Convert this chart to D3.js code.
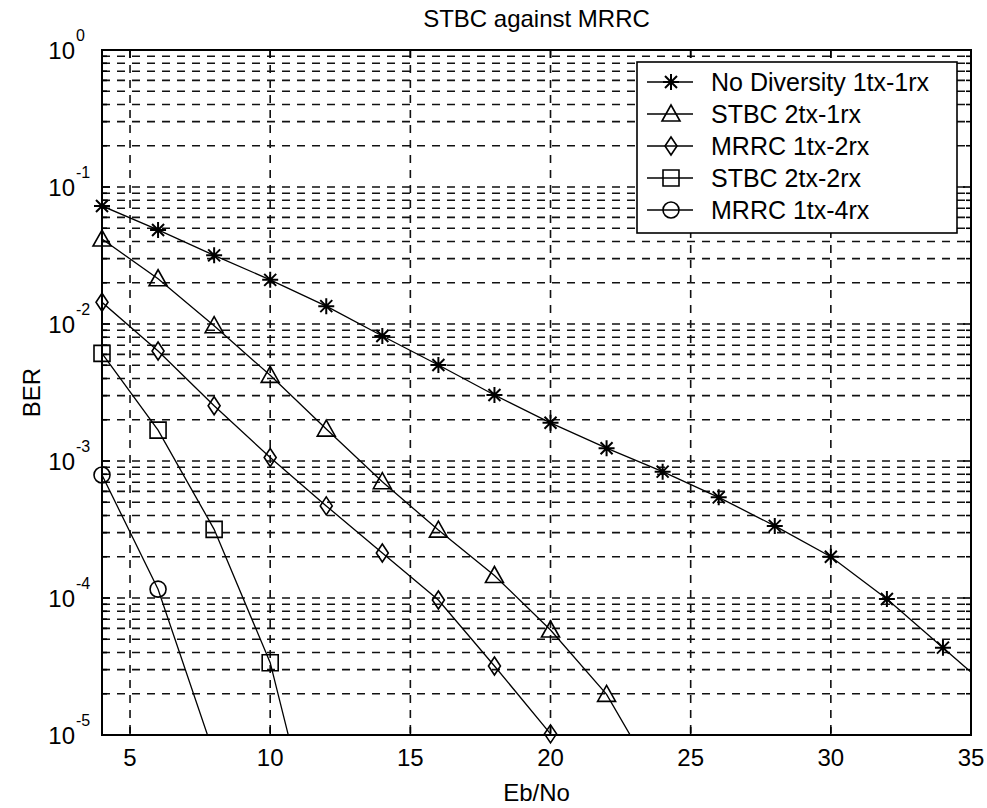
<!DOCTYPE html>
<html>
<head>
<meta charset="utf-8">
<script src="https://cdn.jsdelivr.net/npm/d3@7"></script>
<style>
  body { margin: 0; background: #fff; }
  text { font-family: "Liberation Sans", Arial, sans-serif; fill: #000; }
</style>
</head>
<body>
<div id="chart"></div>
<script>
// series names
var seriesNames = ["No Diversity 1tx-1rx", "STBC 2tx-1rx", "MRRC 1tx-2rx", "STBC 2tx-2rx", "MRRC 1tx-4rx"];
var markerTypes = ["asterisk", "triangle", "diamond", "square", "circle"];

// Eb/No (dB) and BER values
var ebnoNoDiv = [4, 6, 8, 10, 12, 14, 16, 18, 20, 22, 24, 26, 28, 30, 32, 34, 36];
var berNoDiv = [0.0727, 0.0486, 0.0317, 0.0210, 0.0135, 0.00817, 0.00502, 0.00303, 0.00190, 0.00124,
	0.000836, 0.000543, 0.000336, 0.000200, 0.0000984, 0.0000434, 0.000019];

var ebnoStbc21 = [4, 6, 8, 10, 12, 14, 16, 18, 20, 22, 24];
var berStbc21 = [0.0417, 0.0214, 0.00972, 0.00422, 0.00171, 0.000706, 0.000313, 0.000146, 0.0000584, 0.0000198, 0.0000039];

var ebnoMrrc12 = [4, 6, 8, 10, 12, 14, 16, 18, 20];
var berMrrc12 = [0.0144, 0.00635, 0.00253, 0.00106, 0.00047, 0.000213, 0.0000967, 0.0000319, 0.0000102];

var ebnoStbc22 = [4, 6, 8, 10, 12];
var berStbc22 = [0.0061, 0.00168, 0.000317, 0.0000337, 0.00000078];

var ebnoMrrc14 = [4, 6, 8];
var berMrrc14 = [0.00079, 0.000116, 0.0000072];

var xTicks = [5, 10, 15, 20, 25, 30, 35];
var yDecades = [0, -1, -2, -3, -4, -5];

var title = "STBC against MRRC",
	xTitle = "Eb/No",
	yTitle = "BER";

var W = 987, H = 808;
var margin = {top: 50, right: 16, bottom: 73, left: 102},
	w = W - margin.left - margin.right,
	h = H - margin.top - margin.bottom;

var svg = d3.select("#chart").append("svg")
	.attr("width", W)
	.attr("height", H)

var x = d3.scaleLinear()
	.domain([4, 35])
	.range([margin.left, margin.left + w])

var y = d3.scaleLog()
	.domain([1e-5, 1])
	.range([margin.top + h, margin.top])

var allSeries = [
	{x: ebnoNoDiv, y: berNoDiv},
	{x: ebnoStbc21, y: berStbc21},
	{x: ebnoMrrc12, y: berMrrc12},
	{x: ebnoStbc22, y: berStbc22},
	{x: ebnoMrrc14, y: berMrrc14}
];
allSeries.forEach(function(s, i) {
	s.name = seriesNames[i];
	s.marker = markerTypes[i];
	s.points = s.x.map(function(v, j) { return {x: v, y: s.y[j]}; });
})

svg.append("clipPath")
	.attr("id", "plotclip")
	.append("rect")
	.attr("x", margin.left)
	.attr("y", margin.top)
	.attr("width", w)
	.attr("height", h)

// minor + major grid values for the log axis
var yGrid = [];
yDecades.forEach(function(e) {
	if (e < 0) {
		for (var m = 1; m <= 9; m++) yGrid.push(m * Math.pow(10, e));
	}
})

var grid = svg.append("g").attr("class", "grid")

grid.selectAll(".hgrid")
	.data(yGrid)
	.enter()
	.append("line")
	.attr("x1", margin.left)
	.attr("x2", margin.left + w)
	.attr("y1", function(d) { return y(d); })
	.attr("y2", function(d) { return y(d); })
	.style("stroke", "#111")
	.style("stroke-width", 1.6)
	.style("stroke-dasharray", "8,7")

grid.selectAll(".vgrid")
	.data(xTicks.slice(0, -1))
	.enter()
	.append("line")
	.attr("x1", function(d) { return x(d); })
	.attr("x2", function(d) { return x(d); })
	.attr("y1", margin.top)
	.attr("y2", margin.top + h)
	.style("stroke", "#111")
	.style("stroke-width", 1.6)
	.style("stroke-dasharray", "8,7")

// tick marks on all four sides, pointing inwards
var ticks = svg.append("g")
xTicks.forEach(function(t) {
	ticks.append("line").attr("x1", x(t)).attr("x2", x(t))
		.attr("y1", margin.top + h).attr("y2", margin.top + h - 8)
	ticks.append("line").attr("x1", x(t)).attr("x2", x(t))
		.attr("y1", margin.top).attr("y2", margin.top + 8)
})
yGrid.forEach(function(t) {
	var len = (Math.abs(Math.log10(t) - Math.round(Math.log10(t))) < 1e-9) ? 8 : 5;
	ticks.append("line").attr("x1", margin.left).attr("x2", margin.left + len)
		.attr("y1", y(t)).attr("y2", y(t))
	ticks.append("line").attr("x1", margin.left + w).attr("x2", margin.left + w - len)
		.attr("y1", y(t)).attr("y2", y(t))
})
ticks.selectAll("line").style("stroke", "#000").style("stroke-width", 1.6)

// series lines
var line = d3.line()
	.x(function(d) { return x(d.x); })
	.y(function(d) { return y(d.y); })

svg.append("g")
	.attr("clip-path", "url(#plotclip)")
	.selectAll(".series")
	.data(allSeries)
	.enter()
	.append("path")
	.attr("class", "series")
	.attr("d", function(d) { return line(d.points); })
	.style("fill", "none")
	.style("stroke", "#000")
	.style("stroke-width", 1.3)

function markerPath(type) {
	if (type == "asterisk") return "M-8,0L8,0M0,-8L0,8M-6,-6L6,6M-6,6L6,-6";
	if (type == "triangle") return "M0,-9L9,7L-9,7Z";
	if (type == "diamond") return "M0,-9L6,0L0,9L-6,0Z";
	if (type == "square") return "M-8,-8L8,-8L8,8L-8,8Z";
	if (type == "circle") return "M-8,0A8,8 0 1,0 8,0A8,8 0 1,0 -8,0Z";
}

function drawMarker(g, type, cx, cy) {
	g.append("path")
		.attr("d", markerPath(type))
		.attr("transform", "translate(" + cx + "," + cy + ")")
		.style("fill", "none")
		.style("stroke", "#000")
		.style("stroke-width", type == "asterisk" ? 2 : 1.6)
}

var marks = svg.append("g")
allSeries.forEach(function(s) {
	s.points.forEach(function(p) {
		if (p.x <= 35 && p.y >= 1e-5) drawMarker(marks, s.marker, x(p.x), y(p.y));
	})
})

// axes box
svg.append("rect")
	.attr("x", margin.left)
	.attr("y", margin.top)
	.attr("width", w)
	.attr("height", h)
	.style("fill", "none")
	.style("stroke", "#000")
	.style("stroke-width", 2)

// tick labels
svg.selectAll(".xlabel")
	.data(xTicks)
	.enter()
	.append("text")
	.attr("x", function(d) { return x(d); })
	.attr("y", margin.top + h + 31)
	.style("text-anchor", "middle")
	.style("font-size", "24px")
	.text(function(d) { return d; })

yDecades.forEach(function(e) {
	var yy = y(Math.pow(10, e));
	svg.append("text")
		.attr("x", 75)
		.attr("y", yy + 9)
		.style("text-anchor", "end")
		.style("font-size", "24px")
		.text("10")
	svg.append("text")
		.attr("x", 76)
		.attr("y", yy - 9)
		.style("text-anchor", "start")
		.style("font-size", "16px")
		.text(e == 0 ? "0" : "-" + Math.abs(e))
})

svg.append("text")
	.attr("x", margin.left + w / 2)
	.attr("y", 27)
	.style("text-anchor", "middle")
	.style("font-size", "24px")
	.text(title)

svg.append("text")
	.attr("x", margin.left + w / 2)
	.attr("y", 801)
	.style("text-anchor", "middle")
	.style("font-size", "24px")
	.text(xTitle)

svg.append("text")
	.attr("transform", "translate(40," + (margin.top + h / 2) + ") rotate(-90)")
	.style("text-anchor", "middle")
	.style("font-size", "24px")
	.text(yTitle)

// legend
var lg = svg.append("g").attr("class", "legend")
var lx = 637, ly = 62, lw = 320, lh = 171;
lg.append("rect")
	.attr("x", lx)
	.attr("y", ly)
	.attr("width", lw)
	.attr("height", lh)
	.style("fill", "#fff")
	.style("stroke", "#000")
	.style("stroke-width", 1.6)

allSeries.forEach(function(s, i) {
	var ry = ly + 20 + i * 32;
	lg.append("line")
		.attr("x1", lx + 10)
		.attr("x2", lx + 56)
		.attr("y1", ry)
		.attr("y2", ry)
		.style("stroke", "#000")
		.style("stroke-width", 1.3)
	drawMarker(lg, s.marker, lx + 34, ry);
	lg.append("text")
		.attr("x", lx + 74)
		.attr("y", ry)
		.attr("dy", "0.36em")
		.style("font-size", "25px")
		.text(s.name)
})
</script>
</body>
</html>
